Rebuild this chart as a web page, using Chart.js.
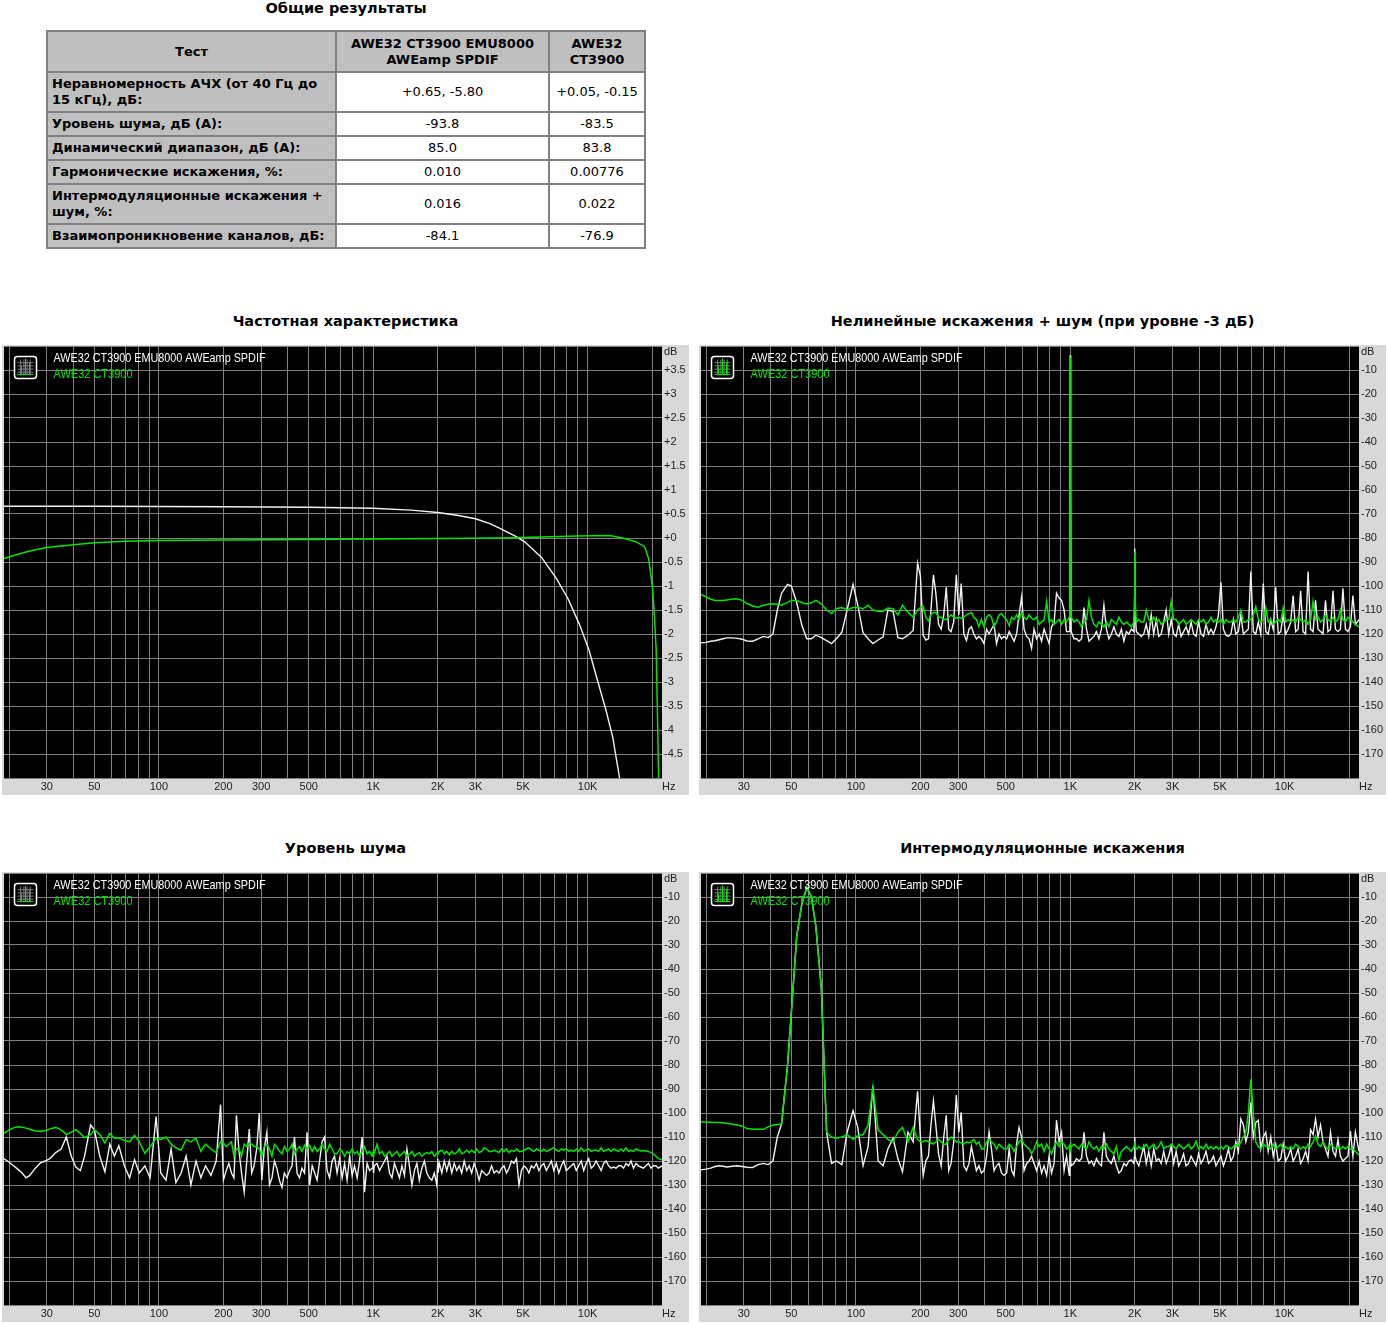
<!DOCTYPE html>
<html><head><meta charset="utf-8">
<script src="https://cdn.jsdelivr.net/npm/chart.js@4"></script>
<style>
html,body{margin:0;padding:0;background:#fff}
body{position:relative;width:1388px;height:1324px;overflow:hidden;font-family:"DejaVu Sans",sans-serif;color:#000}
.title{position:absolute;font:bold 14.5px "DejaVu Sans",sans-serif;text-align:center;white-space:nowrap;line-height:16px}
canvas{position:absolute;background:#d8d8d8;display:block}
table{position:absolute;left:46px;top:30px;width:598px;border-collapse:collapse;table-layout:fixed;border:2px solid #808080}
td{border:2px solid #808080;padding:0 4px;font-size:13px;line-height:16px;text-align:center;background:#fff;box-sizing:border-box}
td.h{background:#bfbfbf;font-weight:bold}
td.l{background:#bfbfbf;font-weight:bold;text-align:left}
</style></head><body>
<div class="title" style="left:0;width:692px;top:0">Общие результаты</div>
<table id="tbl"></table>
<script>
const tableHead=["Тест","AWE32 CT3900 EMU8000<br>AWEamp SPDIF","AWE32<br>CT3900"];
const tableRows=[
["Неравномерность АЧХ (от 40 Гц до 15 кГц), дБ:","+0.65, -5.80","+0.05, -0.15"],
["Уровень шума, дБ (А):","-93.8","-83.5"],
["Динамический диапазон, дБ (А):","85.0","83.8"],
["Гармонические искажения, %:","0.010","0.00776"],
["Интермодуляционные искажения + шум, %:","0.016","0.022"],
["Взаимопроникновение каналов, дБ:","-84.1","-76.9"]];
const legendWhite="AWE32 CT3900 EMU8000 AWEamp SPDIF";
const legendGreen="AWE32 CT3900";
const chartTitles=["Частотная характеристика","Нелинейные искажения + шум (при уровне -3 дБ)","Уровень шума","Интермодуляционные искажения"];

const xGridValues=[20,30,40,50,60,70,80,90,100,200,300,400,500,600,700,800,900,1000,2000,3000,4000,5000,6000,7000,8000,9000,10000,20000];
const xLabelValues=[30,50,100,200,300,500,1000,2000,3000,5000,10000];
const xLabelTexts=["30","50","100","200","300","500","1K","2K","3K","5K","10K"];

// frequency response
const frWhiteHz=[18.9,30,50,100,200,500,1000,1500,2000,2500,3000,3500,3900,4652,5086,6085,7147,8093,9180,10140,11180,12200,13100,14100,15000];
const frWhiteDb=[.66,.66,.66,.655,.65,.64,.62,.58,.53,.47,.40,.30,.2,.03,-.08,-.4,-.84,-1.26,-1.81,-2.33,-3.0,-3.6,-4.15,-5.0,-5.8];
const frGreenHz=[18.9,22,25,30,40,50,70,100,200,500,1000,2000,3900,5000,8980,12670,14550,16870,18450,19250,20140,20500,20900,21500];
const frGreenDb=[-.43,-.34,-.27,-.2,-.14,-.1,-.07,-.05,-.04,-.03,-.02,-.01,0,.01,.04,.05,0,-.08,-.18,-.42,-1.08,-1.64,-2.34,-5.2];

// shared frequency list for the spectra, Hz
const spectrumHz=[
18.9,20,21,22,23,24,25,26.5,28,29.5,
31,33,35,37,39,41,43,45,48,50,
53,56,59,62,65,69,73,77,81,86,
91,97,102,108,114,120,127,134,141,149,
157,165,175,185,194,200,206,212,218,224,
230,236,243,250,257,264,271,278,286,294,
302,310,319,328,337,346,355,365,375,385,
396,407,418,429,441,453,465,478,491,505,
519,533,547,562,577,593,609,626,643,660,
678,697,716,735,755,776,797,818,841,863,
887,911,936,961,990,996,1000,1004,1010,1041,
1070,1099,1129,1159,1191,1223,1256,1290,1325,1361,
1398,1436,1475,1515,1556,1598,1641,1686,1732,1779,
1827,1876,1927,1980,1994,2000,2006,2034,2089,2145,
2203,2263,2324,2387,2452,2519,2587,2657,2729,2803,
2879,2957,3037,3119,3204,3291,3380,3471,3565,3662,
3761,3863,3968,4075,4186,4299,4416,4535,4658,4785,
4914,5048,5184,5325,5469,5618,5770,5926,6087,6252,
6421,6595,6774,6958,7146,7340,7539,7743,7953,8169,
8390,8618,8851,9091,9338,9591,9851,10118,10392,10674,
10963,11260,11566,11879,12201,12532,12872,13221,13579,13947,
14325,14713,15112,15522,15942,16375,16818,17274,17742,18223,
18717,19224,19745,20280,20830,21394,22240];

const thdWhite=[
-123.7,-123.5,-123,-122.8,-122.4,-122,-121.6,-121.6,-121.8,-122.2,
-122.9,-123,-122,-121,-121.5,-120,-110,-103,-99.3,-100,
-107,-116.5,-122,-122,-120.5,-121.5,-122.8,-124,-122,-119.3,
-110,-99.3,-108,-119.5,-122,-124,-122.5,-121.2,-110,-110.5,
-121.5,-122,-120.5,-118.5,-90.5,-96,-120.5,-122.5,-122,-110,
-95.3,-103,-116,-118,-112,-100.5,-118,-119,-115,-95.3,
-112,-99,-120,-122.7,-118,-117,-120,-122,-121,-122,
-124,-118,-120,-118,-116,-124,-120,-122,-121,-122,
-119,-121,-123,-120,-112,-104.6,-118,-121,-122,-126,
-118,-122,-120,-123,-118,-121,-124,-117,-115,-103,
-105,-106,-110,-119,-119,-54,-3.9,-54,-119,-122,
-122,-123,-122,-109,-118,-123,-122,-121,-119,-122,
-118,-108,-118,-122,-120,-117,-120,-121,-118,-123,
-119,-120,-118,-119,-110,-84.4,-110,-119,-120,-121,
-120,-116,-121,-112,-120,-114,-121,-120,-115,-110,
-120,-114,-120,-121,-116,-121,-119,-117,-120,-115,
-120,-121,-115,-120,-121,-116,-120,-118,-120,-117,
-112,-98.5,-118,-120.5,-121,-120,-114,-120,-119,-112,
-120,-119,-118,-94,-119,-120,-115,-120,-99,-119,
-120,-114,-118,-100.5,-120,-119,-112,-120,-118,-115,
-104,-119,-118,-102,-119,-120,-94,-118,-119,-106,
-118,-119,-120,-106,-119,-118,-102,-118,-119,-118,
-101,-118,-119,-117,-104,-116,-114];
const thdGreen=[
-103.6,-104.5,-105.5,-106,-106,-106,-105.8,-105.4,-105.4,-106,
-107.3,-108.3,-108.8,-108,-107.6,-107.4,-107.6,-108,-106.8,-106,
-106,-107,-107.5,-107,-106,-107.5,-110,-111.5,-109.5,-109,
-110,-109,-109,-109.5,-108,-110,-110.5,-110.5,-109.2,-109.5,
-112,-108,-111,-113,-110,-109,-108.5,-113,-114.5,-112,
-111,-111,-113,-113,-114,-114,-113,-112,-113,-113.5,
-113,-113.5,-113,-112,-111.5,-111,-113,-114,-117,-114,
-117,-113,-112,-113,-117,-115,-112,-111.5,-113,-114,
-116.5,-113,-114,-112,-114,-111,-113,-114,-112,-113.5,
-114,-113,-116,-115,-114,-106.5,-115,-114,-116,-115,
-114,-116,-114,-115,-113,-65,-4.6,-65,-113,-115,
-114,-115,-117,-115,-114,-106,-113,-116,-117,-115,
-116,-117,-115,-117,-114,-115,-116,-113,-115,-116,
-115,-116,-117,-115,-105,-86,-105,-115,-114,-115,
-115,-110,-114,-115,-113,-115,-114,-116,-115,-114,
-114,-106.5,-114,-114,-116,-115,-114,-116,-115,-114,
-115,-116,-114,-115,-114,-116,-115,-113,-115,-114,
-115,-114,-116,-114,-115,-115,-114,-115,-113,-110,
-115,-115,-114,-114,-112,-108.6,-114,-115,-114,-109,
-115,-114,-116,-115,-114,-115,-109,-115,-114,-115,
-114,-115,-113,-114,-115,-114,-116,-114,-106.5,-114,
-113,-115,-114,-112,-114,-115,-113,-115,-114,-110,
-114,-115,-113,-114,-115,-116,-117];

const noiseWhite=[
-119,-120.5,-122,-123.5,-125,-127,-126,-123,-120.8,-120,
-119,-116.5,-115,-110,-118,-122.5,-124,-118,-105,-107,
-118,-124.5,-113,-118,-113.6,-122,-127,-119.5,-125,-122,
-127,-101.5,-125,-128,-115,-129,-125,-118,-130,-120,
-127,-122,-126,-120,-96.5,-128,-124,-121,-125,-127,
-101,-115,-125,-133,-120,-106.7,-125,-122,-115,-100,
-128,-115,-108,-130,-127,-120,-123,-128,-131,-125,
-127,-124,-122,-110,-125,-127,-123,-125,-108,-130,
-122,-125,-128,-120,-112,-110,-124,-127,-120,-118,
-125,-119,-127,-121,-128,-118,-126,-122,-127,-120,
-110,-133,-121,-124,-123,-120,-123,-125,-122,-121,
-124,-122,-120,-118,-125,-127,-121,-124,-127,-122,
-126,-115,-122,-130,-124,-121,-128,-123,-120,-125,
-127,-128,-125,-130,-122,-119,-125,-121,-125,-120,
-124,-120,-125,-121,-124,-122,-125,-120,-124,-122,
-125,-121,-124,-128,-124,-125,-126,-125,-122,-125,
-124,-125,-123,-122,-125,-123,-120,-121,-119,-130,
-124,-122,-123,-125,-122,-123,-121,-124,-122,-121,
-124,-122,-120,-124,-121,-125,-122,-120,-124,-123,
-122,-121,-124,-122,-120,-124,-121,-119,-123,-122,
-120,-122,-124,-121,-120,-122,-123,-122.5,-123,-122,
-122,-123,-121,-122,-120,-123,-121,-122,-122.5,-123,
-122,-121,-123,-122,-122,-123,-122];
const noiseGreen=[
-108.5,-107,-106.2,-105.7,-105.9,-106.3,-106.8,-107.5,-107.6,-107.4,
-106.6,-106,-107,-109,-108,-106.9,-108.5,-110.2,-109,-107,
-109,-112.5,-108.5,-110.5,-110.3,-111.5,-112,-109.3,-112,-116.8,
-114,-110.5,-111,-110,-113,-114.5,-115.5,-111,-112,-110.5,
-116,-113,-115,-116.5,-112,-112.5,-114,-113,-112,-118,
-115,-114.5,-118,-113,-114,-112.5,-113,-114,-114,-115,
-118,-114,-113,-115,-118,-113,-114,-116,-117,-114,
-116,-115,-113,-117,-115,-114,-116,-113.5,-115,-113.5,
-116,-114,-116,-115,-113,-115,-116,-113,-115,-117,
-117,-115,-116,-118,-116,-117,-115,-117,-116,-118,
-116,-114,-117,-116,-118,-116,-117,-115,-117,-113,
-117,-116,-118,-117,-116,-118,-117,-116,-118,-117,
-116,-118,-117,-116,-118,-117,-116.5,-118,-117,-116.5,
-117,-116,-118,-117,-116.5,-116,-117,-116,-115.5,-117,
-116,-117.5,-116,-117,-116.5,-115,-117,-116.5,-115.5,-116.5,
-115.5,-116.5,-115,-116.5,-116,-114.5,-115,-116,-116,-115.5,
-116,-116.5,-115,-116,-115,-116.5,-115.5,-116,-115,-116,
-116,-115.5,-115,-114.5,-115.5,-116,-115,-115.5,-116,-115,
-116,-115.5,-115,-114.5,-115.5,-116,-115,-115.5,-114.8,-116,
-115.5,-116,-115,-116,-114.5,-116,-115.5,-115,-116,-115.5,
-115.5,-116,-114.5,-116,-115.5,-115,-116,-115,-115.5,-116,
-115,-116,-114.5,-116,-115.5,-116,-115,-115.5,-115.8,-115.6,
-115.8,-116,-116.5,-117,-118,-119,-119.5];

const imdWhite=[
-123.7,-123.4,-123,-122.3,-122,-122.2,-122.5,-122.2,-122,-122.3,
-122.6,-122.7,-121.5,-121,-121.5,-120,-110,-104.5,-80,-58,
-26,-12.7,-6,-10,-22,-48,-108,-121,-120,-121.5,
-108,-99,-106,-122,-114,-88.7,-120,-122,-115,-110.5,
-119,-124.5,-108,-112,-91,-110,-126,-120,-118,-105,
-95,-105,-117,-122,-110,-101,-124,-121,-112,-92.5,
-108,-99.7,-122,-124,-121,-114,-119,-124,-122,-125,
-124,-118,-107.8,-115,-124,-122,-121,-125,-126,-125,
-115,-124,-126,-113,-106,-110,-124,-121,-120,-118,
-121,-124,-120,-125,-122,-126,-118,-125,-121,-103,
-112,-108,-124,-118,-126,-118,-114,-120,-122,-121,
-119,-120,-119,-108,-118,-121,-120,-122,-119,-121,
-122,-108,-118,-120,-121,-118,-122,-125,-124,-121,
-122,-120,-119.5,-121,-118,-110,-118,-120,-122,-118,
-114,-121,-116,-122,-115,-120,-119,-121,-116,-121,
-118,-114,-121,-116,-122,-120,-117,-122,-121,-118,
-120,-122,-117,-121,-119,-116,-121,-120,-118,-122,
-120,-118,-122,-119,-115,-120,-118,-112,-116,-102.5,
-105,-112,-108,-95.5,-110,-104,-103,-115,-110,-108,
-116,-110,-118,-113,-120,-119,-113,-120,-118,-115,
-120,-118,-115,-121,-119,-116,-120,-107,-109,-102.5,
-110,-105,-112,-115,-118,-108,-116,-118,-111,-118,
-120,-119,-118,-107.5,-118,-108,-116];
const imdGreen=[
-103.8,-103.8,-103.9,-104,-104,-104.1,-104.3,-104.7,-105,-105.5,
-106.5,-106.8,-106.8,-106.8,-105.8,-105,-104.8,-104.5,-80,-58,
-26,-12.7,-6,-10,-22,-48,-108,-110,-110.5,-110,
-109,-111,-109.5,-109,-105,-89.3,-107,-109,-111,-112,
-108,-106,-112,-106,-111,-112,-112,-111.5,-112,-112.5,
-113,-112,-111,-112,-113,-113,-111,-110,-111,-112,
-112,-112.5,-113,-112,-112.5,-112,-111,-113,-112,-115,
-115,-112,-111,-112,-113,-115,-113,-114,-115,-115,
-113,-114,-116,-114,-112,-111,-113,-114,-115,-117,
-115,-112,-114,-113,-116,-113,-115,-117,-114,-112,
-114,-112,-113,-115,-114,-114,-113,-115,-114,-113,
-114,-115,-113,-114,-115,-112,-114,-115,-114,-116,
-114,-115,-113,-115,-116,-117,-114,-119.6,-116,-115,
-114,-115,-116,-114,-113,-113,-114,-115,-114,-115,
-114,-113,-115,-114,-113,-115,-114,-112,-115,-114,
-114,-113,-114,-115,-113,-114,-115,-114,-113,-115,
-114,-111.8,-115,-114,-115,-113,-115,-114,-115,-114,
-115,-114,-115,-113.5,-114,-115,-114,-113,-114,-112,
-110,-108,-100,-86,-100,-112,-114,-115,-113,-114,
-114,-115,-113,-115,-114,-113,-115,-114,-115,-114,
-115,-113,-114,-115,-114,-115,-113,-114,-112,-109.6,
-113,-114,-112,-114,-115,-113,-114,-115,-114,-115,
-114,-115,-114,-115,-115,-116,-117.5];

// ---- table
const tbl=document.getElementById('tbl');
const colW=[289,213,96], rowH=[41,40,24,24,24,40,24];
tbl.innerHTML='<colgroup>'+colW.map(w=>`<col style="width:${w}px">`).join('')+'</colgroup>'+
 `<tr style="height:${rowH[0]}px">`+tableHead.map(t=>`<td class="h">${t}</td>`).join('')+'</tr>'+
 tableRows.map((r,i)=>`<tr style="height:${rowH[i+1]}px"><td class="l">${r[0]}</td><td>${r[1]}</td><td>${r[2]}</td></tr>`).join('');

// ---- charts
const FONT='"Liberation Sans",sans-serif';
const noPad=s=>{s.paddingTop=0;s.paddingBottom=0;s.paddingLeft=0;s.paddingRight=0;};
const dress={id:'dress',
 beforeDraw(c){const a=c.chartArea,x=c.ctx;x.save();x.fillStyle='#000';x.fillRect(a.left,a.top,a.right-a.left,a.bottom-a.top);x.restore();},
 afterDraw(c){
  const x=c.ctx,a=c.chartArea;x.save();
  // icon
  const L=a.left+10.5,T=a.top+10.5,S=22;
  x.fillStyle='#000';x.fillRect(L,T,S,S);
  x.strokeStyle='#808080';x.lineWidth=1;x.beginPath();
  for(let i=1;i<5;i++){x.moveTo(L+3+i*3.2,T+3);x.lineTo(L+3+i*3.2,T+S-3);x.moveTo(L+3,T+3+i*3.2);x.lineTo(L+S-3,T+3+i*3.2);}
  x.stroke();
  x.strokeStyle='#00e600';x.beginPath();x.moveTo(L+3,T+S-4);x.lineTo(L+S-3,T+S-4);
  [[7,8],[11,16],[15,12]].forEach(p=>{x.moveTo(L+p[0],T+S-4);x.lineTo(L+p[0],T+S-4-p[1]);});x.stroke();
  x.strokeStyle='#fff';x.lineWidth=1.5;x.beginPath();x.roundRect(L,T,S,S,3);x.stroke();
  // legend
  x.textBaseline='middle';x.textAlign='left';x.font='12px '+FONT;
  x.fillStyle='#ffffff';x.fillText(c.data.datasets[0].label,a.left+49.5,a.top+12.5,212);
  x.fillStyle='#00e600';x.fillText(c.data.datasets[1].label,a.left+49.5,a.top+28.5,79);
  // axis units
  x.font='11px '+FONT;x.fillStyle='#222';
  x.fillText('dB',a.right+2,a.top+6);
  x.fillText('Hz',a.right,a.bottom+8.5);
  x.restore();
 }};
function pts(h,v){return h.map((f,i)=>({x:f,y:v[i]}));}
function make(left,top,title,hzW,dbW,hzG,dbG,yMin,yMax,yStep,fmt){
 const d=document.createElement('div');d.className='title';d.textContent=title;
 d.style.left=left+'px';d.style.width='687px';d.style.top=(top-32)+'px';document.body.appendChild(d);
 const cv=document.createElement('canvas');cv.width=687;cv.height=450;
 cv.style.left=left+'px';cv.style.top=top+'px';document.body.appendChild(cv);
 new Chart(cv,{type:'scatter',plugins:[dress],
  data:{datasets:[
   {label:legendWhite,data:pts(hzW,dbW),showLine:true,borderColor:'#f2f2f2',borderWidth:1.4,pointRadius:0,tension:0,order:2},
   {label:legendGreen,data:pts(hzG,dbG),showLine:true,borderColor:'#00e600',borderWidth:1.5,pointRadius:0,tension:0,order:1}]},
  options:{responsive:false,animation:false,devicePixelRatio:1,
   layout:{autoPadding:false,padding:{left:2,top:1,right:0,bottom:0}},
   plugins:{legend:{display:false},tooltip:{enabled:false},title:{display:false}},
   scales:{
    x:{type:'logarithmic',min:18.94,max:22240,
     afterBuildTicks:s=>{s.ticks=xGridValues.map(v=>({value:v}));},
     afterFit:s=>{s.height=17;noPad(s);},
     grid:{color:'#808080',lineWidth:1,drawTicks:false},border:{display:false},
     ticks:{autoSkip:false,maxRotation:0,minRotation:0,padding:2,color:'#222',font:{family:FONT,size:11},
      callback:v=>{const i=xLabelValues.indexOf(v);return i<0?'':xLabelTexts[i];}}},
    y:{type:'linear',position:'right',min:yMin,max:yMax,
     afterFit:s=>{s.width=27;noPad(s);},
     grid:{color:'#808080',lineWidth:1,drawTicks:false},border:{display:false},
     ticks:{stepSize:yStep,autoSkip:false,padding:2,color:'#222',font:{family:FONT,size:11},
      callback:v=>(v===yMin||v===yMax)?'':fmt(v)}}
   }}});
}
const fmtFr=v=>(v>=0?'+':'')+v, fmtDb=v=>String(v);
make(2,345,chartTitles[0],frWhiteHz,frWhiteDb,frGreenHz,frGreenDb,-5,4,0.5,fmtFr);
make(699,345,chartTitles[1],spectrumHz,thdWhite,spectrumHz,thdGreen,-180,0,10,fmtDb);
make(2,872,chartTitles[2],spectrumHz,noiseWhite,spectrumHz,noiseGreen,-180,0,10,fmtDb);
make(699,872,chartTitles[3],spectrumHz,imdWhite,spectrumHz,imdGreen,-180,0,10,fmtDb);
</script>
</body></html>
